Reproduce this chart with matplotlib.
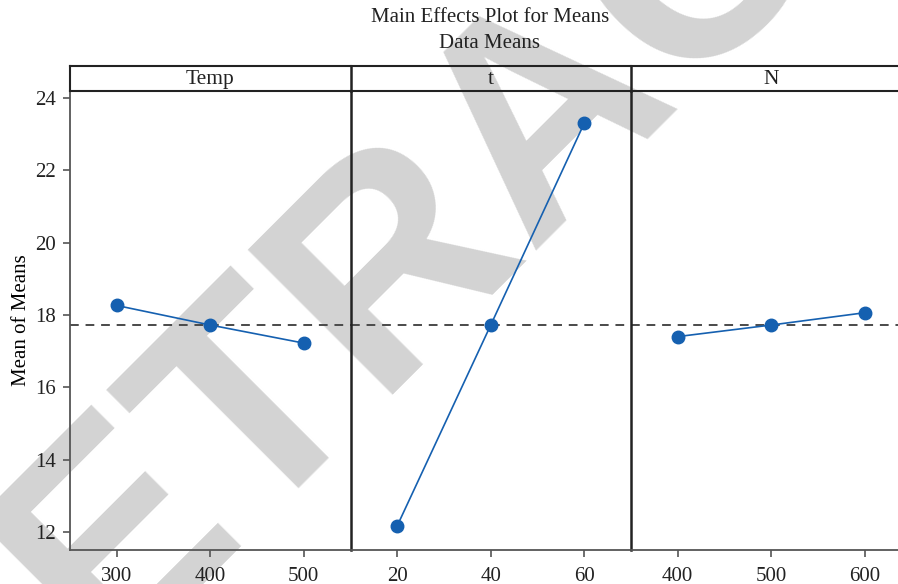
import matplotlib
matplotlib.use("Agg")
import matplotlib.pyplot as plt
import numpy as np

plt.rcParams['font.family'] = ['Liberation Serif', 'DejaVu Serif']

# Factor names and their levels
factors = ["Temp", "t", "N"]
temp_levels = ["300", "400", "500"]
t_levels = ["20", "40", "60"]
n_levels = ["400", "500", "600"]

# Mean of means at each level
temp_means = [18.26, 17.72, 17.22]
t_means = [12.17, 17.72, 23.30]
n_means = [17.40, 17.72, 18.06]

levels = [temp_levels, t_levels, n_levels]
means = [temp_means, t_means, n_means]
grand_mean = np.mean(np.concatenate([temp_means, t_means, n_means]))

W, H = 898, 584
fig = plt.figure(figsize=(W / 100, H / 100), dpi=100)
fig.patch.set_facecolor("white")

# Watermark behind the panels, running diagonally across the figure
fig.text(-49 / W, 1 - 817 / H, "RETRACTED", fontsize=215, fontweight="bold",
         family="Liberation Sans", color="#d3d3d3", rotation=45,
         rotation_mode="anchor", ha="left", va="baseline", zorder=0)

left_px, panel_px = 70, 280.5
bottom_px, top_px, strip_px = 550, 91, 25
dark = "#222222"
axis_grey = "#555555"
blue = "#1560b0"

for i, (name, lv, mv) in enumerate(zip(factors, levels, means)):
    x0 = (left_px + i * panel_px) / W
    w = panel_px / W
    b = 1 - bottom_px / H
    h = (bottom_px - top_px) / H
    ax = fig.add_axes([x0, b, w, h], zorder=1)
    ax.patch.set_alpha(0)
    ax.plot(lv, mv, color=blue, lw=1.2, marker="o", ms=9, zorder=3)
    ax.axhline(grand_mean, color="#4a4a4a", lw=1.4, ls=(0, (4.5, 3.5)), zorder=2)
    ax.set_xlim(-0.5, 2.5)
    ax.set_ylim(11.5, 24.19)
    ax.set_yticks([12, 14, 16, 18, 20, 22, 24])
    ax.tick_params(axis="x", direction="out", length=5, width=1.2, color=axis_grey,
                   labelsize=15, pad=7, labelcolor="#222222")
    ax.tick_params(axis="y", direction="out", length=5, width=1.2, color=axis_grey,
                   labelsize=15, pad=5, labelcolor="#222222")
    ax.spines["top"].set_visible(False)
    ax.spines["bottom"].set_color(axis_grey)
    ax.spines["bottom"].set_linewidth(1.3)
    if i == 0:
        ax.spines["left"].set_color(axis_grey)
        ax.spines["left"].set_linewidth(1.3)
        ax.set_ylabel("Mean of Means", fontsize=15, labelpad=3)
    else:
        ax.spines["left"].set_color(dark)
        ax.spines["left"].set_linewidth(1.8)
        ax.tick_params(axis="y", left=False, labelleft=False)
    ax.spines["right"].set_visible(False)

    # Header strip with the factor name
    sax = fig.add_axes([x0, 1 - top_px / H, w, strip_px / H], zorder=1)
    sax.patch.set_alpha(0)
    sax.set_xticks([])
    sax.set_yticks([])
    for s in ["top", "bottom"]:
        sax.spines[s].set_color(dark)
        sax.spines[s].set_linewidth(1.5)
    sax.spines["left"].set_color(dark)
    sax.spines["left"].set_linewidth(1.8 if i > 0 else 1.5)
    sax.spines["right"].set_visible(False)
    sax.text(0.5, 0.45, name, transform=sax.transAxes, ha="center", va="center",
             fontsize=15.5, color="#222222")

fig.text(490 / W, 1 - 18 / H, "Main Effects Plot for Means", ha="center", va="center",
         fontsize=15, color="#222222")
fig.text(490 / W, 1 - 44 / H, "Data Means", ha="center", va="center",
         fontsize=15, color="#222222")

fig.savefig("out.png", dpi=100)
